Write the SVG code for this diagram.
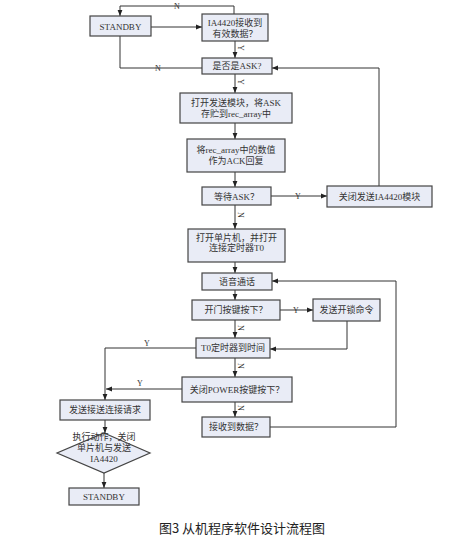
<svg xmlns="http://www.w3.org/2000/svg" width="469" height="540" viewBox="0 0 469 540">
<defs>
<marker id="ah" viewBox="0 0 10 10" refX="10" refY="5" markerWidth="6" markerHeight="6" orient="auto" markerUnits="userSpaceOnUse">
<path d="M0,1 L10,5 L0,9 z" fill="#222"/>
</marker>
</defs>
<style>
.box{fill:#e9ecf6;stroke:#444;stroke-width:1.2}
.t{font-family:"Liberation Serif","Noto Sans CJK SC",serif;font-size:9px;fill:#333;text-anchor:middle}
.lbl{font-family:"Liberation Serif",serif;font-size:8px;fill:#333;text-anchor:middle}
.c{fill:none;stroke:#333;stroke-width:1}
.a{fill:none;stroke:#333;stroke-width:1;marker-end:url(#ah)}
.cap{font-family:"Noto Sans CJK SC",sans-serif;font-size:13px;fill:#222;text-anchor:middle}
</style>
<rect width="469" height="540" fill="#fff"/>
<g id="connectors">
<path class="a" d="M234,14 V6 H120 V16"/>
<path class="a" d="M151,27 H202"/>
<path class="c" d="M120,36 V68 H202"/>
<path class="a" d="M235,41 V58"/>
<path class="a" d="M235,74 V93"/>
<path class="a" d="M235,123 V139"/>
<path class="a" d="M235,172 V187"/>
<path class="a" d="M271,196 H327"/>
<path class="a" d="M379,186 V68 H272"/>
<path class="a" d="M235,205 V229"/>
<path class="a" d="M235,262 V273"/>
<path class="a" d="M235,290 V300"/>
<path class="a" d="M280,310 H313"/>
<path class="a" d="M347,321 V349 H270"/>
<path class="a" d="M235,320 V338"/>
<path class="a" d="M235,358 V377"/>
<path class="a" d="M235,402 V417"/>
<path class="a" d="M270,427 H396 V281 H272"/>
<path class="a" d="M196,348 H105 V400"/>
<path class="a" d="M182,389 H106"/>
<path class="a" d="M105,420 V433"/>
<path class="a" d="M104,473 V488"/>
<text class="lbl" x="177" y="9">N</text>
<text class="lbl" x="158" y="71">N</text>
<text class="lbl" x="298" y="199">Y</text>
<text class="lbl" x="296" y="313">Y</text>
<text class="lbl" x="147" y="346">Y</text>
<text class="lbl" x="140" y="386">Y</text>
<text class="lbl" transform="translate(238,48) rotate(90)">Y</text>
<text class="lbl" transform="translate(238,82) rotate(90)">Y</text>
<text class="lbl" transform="translate(238,215) rotate(90)">N</text>
<text class="lbl" transform="translate(238,328) rotate(90)">N</text>
<text class="lbl" transform="translate(238,366) rotate(90)">N</text>
<text class="lbl" transform="translate(238,408) rotate(90)">N</text>
</g>
<g id="standby1"><rect class="box" x="90" y="16" width="61" height="20"/><text class="t" x="120.5" y="29.5">STANDBY</text></g>
<g id="ia4420"><rect class="box" x="202" y="14" width="66" height="27"/><text class="t" x="235" y="26">IA4420接收到</text><text class="t" x="235" y="37">有效数据？</text></g>
<g id="isask"><rect class="box" x="202" y="58" width="70" height="16"/><text class="t" x="237" y="69">是否是ASK?</text></g>
<g id="opensend"><rect class="box" x="180" y="93" width="112" height="30"/><text class="t" x="236" y="106">打开发送模块，将ASK</text><text class="t" x="236" y="117">存贮到rec_array中</text></g>
<g id="recarray"><rect class="box" x="187" y="139" width="98" height="33"/><text class="t" x="236" y="153">将rec_array中的数值</text><text class="t" x="236" y="164">作为ACK回复</text></g>
<g id="waitask"><rect class="box" x="202" y="187" width="69" height="18"/><text class="t" x="236.5" y="199.5">等待ASK？</text></g>
<g id="closesend"><rect class="box" x="327" y="186" width="105" height="21"/><text class="t" x="379.5" y="199.5">关闭发送IA4420模块</text></g>
<g id="openmcu"><rect class="box" x="188" y="229" width="97" height="33"/><text class="t" x="236.5" y="241">打开单片机，并打开</text><text class="t" x="236.5" y="251">连接定时器T0</text></g>
<g id="voice"><rect class="box" x="202" y="273" width="70" height="17"/><text class="t" x="237" y="284.5">语音通话</text></g>
<g id="doorkey"><rect class="box" x="192" y="300" width="88" height="20"/><text class="t" x="236" y="313">开门按键按下？</text></g>
<g id="unlock"><rect class="box" x="313" y="299" width="67" height="22"/><text class="t" x="346.5" y="313">发送开锁命令</text></g>
<g id="t0"><rect class="box" x="196" y="338" width="74" height="20"/><text class="t" x="233" y="351">T0定时器到时间</text></g>
<g id="power"><rect class="box" x="182" y="377" width="110" height="25"/><text class="t" x="237" y="392.5">关闭POWER按键按下？</text></g>
<g id="recvdata"><rect class="box" x="202" y="417" width="68" height="20"/><text class="t" x="236" y="430">接收到数据？</text></g>
<g id="sendreq"><rect class="box" x="60" y="400" width="90" height="20"/><text class="t" x="105" y="413">发送接送连接请求</text></g>
<g id="action"><path class="box" d="M104,433 L150,453 L104,473 L57,453 z"/><text class="t" x="104" y="440">执行动作，关闭</text><text class="t" x="104" y="451">单片机与发送</text><text class="t" x="104" y="462">IA4420</text></g>
<g id="standby2"><rect class="box" x="69" y="488" width="70" height="17"/><text class="t" x="104" y="499.5">STANDBY</text></g>
<text class="cap" x="242" y="533">图3 从机程序软件设计流程图</text>
</svg>
